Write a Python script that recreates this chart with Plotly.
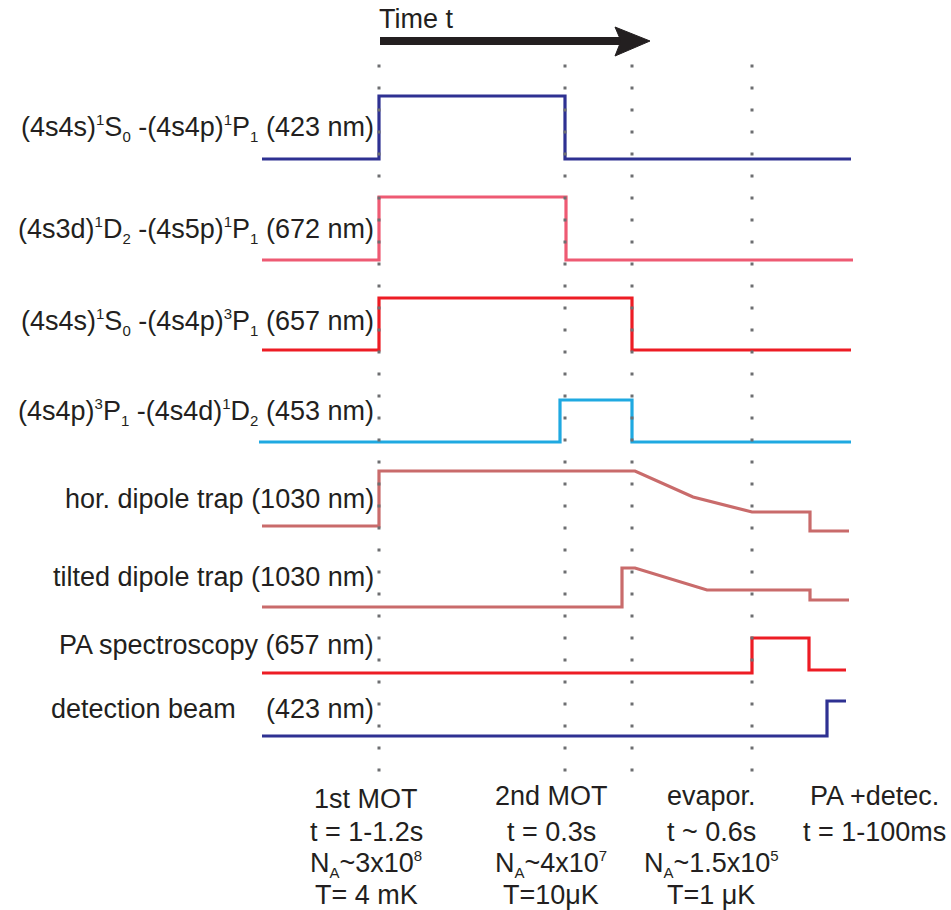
import plotly.graph_objects as go

FONT = "Liberation Sans, Arial, sans-serif"
TXT = "#231F20"

# ---- channel data (time in schematic units, level in schematic units) ----
t_423 = [262, 379, 379, 565, 565, 851]
y_423 = [159, 159, 96, 96, 159, 159]
t_672 = [262, 379, 379, 566, 566, 853]
y_672 = [260, 260, 197, 197, 260, 260]
t_657 = [262, 379, 379, 632, 632, 851]
y_657 = [350, 350, 298, 298, 350, 350]
t_453 = [259, 560, 560, 632, 632, 851]
y_453 = [442, 442, 400, 400, 442, 442]
t_hor = [262, 379, 379, 635, 693, 752, 810, 810, 849]
y_hor = [526, 526, 471, 471, 497, 512, 512, 531, 531]
t_tilt = [262, 622, 622, 635, 707, 810, 810, 849]
y_tilt = [607, 607, 568, 568, 590, 590, 600, 600]
t_pa = [262, 752, 752, 809, 809, 846]
y_pa = [673, 673, 638, 638, 670, 670]
t_det = [262, 827, 827, 846]
y_det = [736, 736, 701, 701]

channels = [
    (t_423, y_423, "#2E3192"),
    (t_672, y_672, "#EE5A73"),
    (t_657, y_657, "#ED1C24"),
    (t_453, y_453, "#1FA9E1"),
    (t_hor, y_hor, "#C96B6B"),
    (t_tilt, y_tilt, "#C96B6B"),
    (t_pa, y_pa, "#ED1C24"),
    (t_det, y_det, "#2E3192"),
]


def sup(s):
    return "<sup><span style='font-size:15px'>%s</span></sup>" % s


def sub(s):
    return "<sub><span style='font-size:15px'>%s</span></sub>" % s


labels = [
    "(4s4s)" + sup("1") + "S" + sub("0") + " -(4s4p)" + sup("1") + "P" + sub("1") + " (423 nm)",
    "(4s3d)" + sup("1") + "D" + sub("2") + " -(4s5p)" + sup("1") + "P" + sub("1") + " (672 nm)",
    "(4s4s)" + sup("1") + "S" + sub("0") + " -(4s4p)" + sup("3") + "P" + sub("1") + " (657 nm)",
    "(4s4p)" + sup("3") + "P" + sub("1") + " -(4s4d)" + sup("1") + "D" + sub("2") + " (453 nm)",
    "hor. dipole trap (1030 nm)",
    "tilted dipole trap (1030 nm)",
    "PA spectroscopy (657 nm)",
    "(423 nm)",
]
label_y = [128, 230, 322, 412, 499, 577, 645, 709]

phase_t = [379, 565, 632, 752]
phase_x = [366, 551, 711, 874]
phase_text = [
    ["1st MOT", "t = 1-1.2s", "N" + sub("A") + "~3x10" + sup("8"), "T= 4 mK"],
    ["2nd MOT", "t = 0.3s", "N" + sub("A") + "~4x10" + sup("7"), "T=10μK"],
    ["evapor.", "t ~ 0.6s", "N" + sub("A") + "~1.5x10" + sup("5"), "T=1 μK"],
    ["PA +detec.", "t = 1-100ms"],
]
phase_line_y = [799, 832, 864, 895]

fig = go.Figure()

for t, y, c in channels:
    fig.add_trace(go.Scatter(x=t, y=y, mode="lines",
                             line=dict(color=c, width=3.2),
                             hoverinfo="skip", showlegend=False))

for xv in phase_t:
    fig.add_trace(go.Scatter(x=[xv, xv], y=[64.5, 778], mode="lines",
                             line=dict(color="#6D6E71", width=3, dash="3px,19px"),
                             hoverinfo="skip", showlegend=False))

ann = []
for lab, yv in zip(labels, label_y):
    ann.append(dict(x=376, y=yv, text=lab, xanchor="right", yanchor="middle",
                    showarrow=False, font=dict(family=FONT, size=27, color=TXT)))
ann.append(dict(x=238, y=709, text="detection beam", xanchor="right", yanchor="middle",
                showarrow=False, font=dict(family=FONT, size=27, color=TXT)))
for cx, lines in zip(phase_x, phase_text):
    for i, s in enumerate(lines):
        yy = phase_line_y[i] - (3 if (cx > 500 and i == 0) else 0)
        ann.append(dict(x=cx, y=yy, text=s, xanchor="center", yanchor="middle",
                        showarrow=False, font=dict(family=FONT, size=27, color=TXT)))
ann.append(dict(x=377, y=19, text="Time t", xanchor="left", yanchor="middle",
                showarrow=False, font=dict(family=FONT, size=27, color=TXT)))

shapes = [
    dict(type="line", x0=380, x1=622, y0=41, y1=41, xref="x", yref="y",
         line=dict(color=TXT, width=8)),
    dict(type="path", path="M 615 27 L 650 41 L 615 56 L 621 41 Z", xref="x", yref="y",
         fillcolor=TXT, line=dict(color=TXT, width=1)),
]

fig.update_layout(
    width=951, height=910,
    margin=dict(l=0, r=0, t=0, b=0),
    paper_bgcolor="white", plot_bgcolor="white",
    xaxis=dict(range=[0, 951], visible=False, fixedrange=True),
    yaxis=dict(range=[910, 0], visible=False, fixedrange=True),
    annotations=ann, shapes=shapes,
)

fig.write_html("out.html")
